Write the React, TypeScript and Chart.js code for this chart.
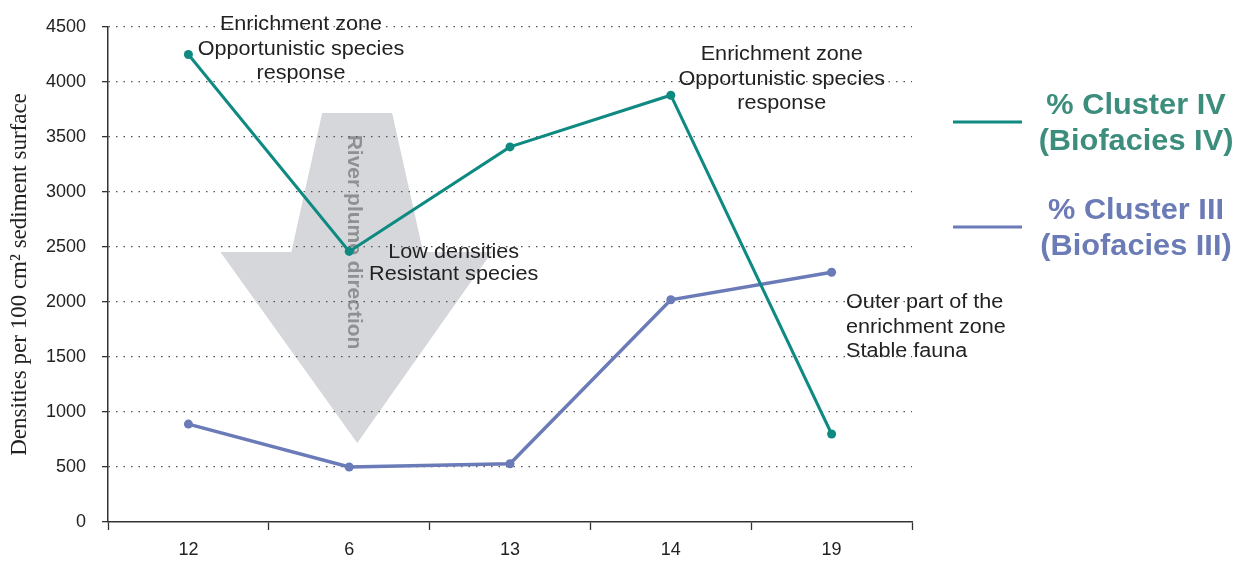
import React, { useEffect, useRef } from 'react';
import { Chart, registerables } from 'chart.js';

Chart.register(...registerables);

const stations = ['12', '6', '13', '14', '19'];
const cluster4 = [4250, 2460, 3410, 3880, 800];
const cluster3 = [890, 500, 530, 2020, 2270];
const yMin = 0;
const yMax = 4500;
const yStep = 500;

const teal = '#0f8a82';
const blue = '#6a7bb8';
const tealText = '#3d8d7d';
const blueText = '#6b7bb6';
const sans = '"Liberation Sans", Arial, sans-serif';

const annotations = [
  { x: 0.7, align: 'center', lines: [['Enrichment zone', 4525], ['Opportunistic species', 4300], ['response', 4075]] },
  { x: 3.69, align: 'center', lines: [['Enrichment zone', 4250], ['Opportunistic species', 4025], ['response', 3805]] },
  { x: 1.65, align: 'center', lines: [['Low densities', 2450], ['Resistant species', 2250]] },
  { x: 4.09, align: 'left', lines: [['Outer part of the', 1995], ['enrichment zone', 1770], ['Stable fauna', 1550]] },
];

// arrow outline in (category index, value) space
const arrowShape: [number, number][] = [
  [0.832, 3718], [1.267, 3718], [1.46, 2455], [1.888, 2455], [1.05, 718], [0.199, 2455], [0.64, 2455],
];

const legendItems = [
  { lines: ['% Cluster IV', '(Biofacies IV)'], line: teal, text: tealText, y: 122 },
  { lines: ['% Cluster III', '(Biofacies III)'], line: blue, text: blueText, y: 227 },
];

const stretchText = (ctx: any, text: string, x: number, y: number, sx: number) => {
  ctx.save();
  ctx.translate(x, y);
  ctx.scale(sx, 1);
  ctx.fillText(text, 0, 0);
  ctx.restore();
};

const decorPlugin = {
  id: 'decor',
  beforeDraw(chart: any) {
    const ctx = chart.ctx;
    const xs = chart.scales.x;
    const ys = chart.scales.y;
    ctx.save();
    ctx.beginPath();
    arrowShape.forEach(([i, v], k) => {
      const px = xs.getPixelForValue(i);
      const py = ys.getPixelForValue(v);
      if (k === 0) ctx.moveTo(px, py);
      else ctx.lineTo(px, py);
    });
    ctx.closePath();
    ctx.fillStyle = '#d6d7da';
    ctx.fill();
    ctx.translate(xs.getPixelForValue(1.03), ys.getPixelForValue(2545));
    ctx.rotate(Math.PI / 2);
    ctx.fillStyle = '#8e9094';
    ctx.font = `bold 21px ${sans}`;
    ctx.textAlign = 'center';
    ctx.textBaseline = 'middle';
    ctx.fillText('River plume direction', 0, 0);
    ctx.restore();
  },
  afterDraw(chart: any) {
    const ctx = chart.ctx;
    const xs = chart.scales.x;
    const ys = chart.scales.y;
    ctx.save();
    ctx.font = `20px ${sans}`;
    ctx.fillStyle = '#222222';
    ctx.textBaseline = 'middle';
    annotations.forEach((a) => {
      ctx.textAlign = a.align;
      const px = xs.getPixelForValue(a.x);
      a.lines.forEach(([t, v]) => {
        stretchText(ctx, t as string, px, ys.getPixelForValue(v as number), 1.08);
      });
    });
    // legend
    legendItems.forEach((it) => {
      ctx.strokeStyle = it.line;
      ctx.lineWidth = 3;
      ctx.beginPath();
      ctx.moveTo(953, it.y);
      ctx.lineTo(1022, it.y);
      ctx.stroke();
      ctx.fillStyle = it.text;
      ctx.font = `bold 29px ${sans}`;
      ctx.textAlign = 'center';
      stretchText(ctx, it.lines[0], 1136, it.y - 16, 1.06);
      stretchText(ctx, it.lines[1], 1136, it.y + 20, 1.06);
    });
    ctx.restore();
  },
};

export default function App() {
  const ref = useRef<HTMLCanvasElement>(null);
  useEffect(() => {
    if (!ref.current) return;
    const chart = new Chart(ref.current, {
      type: 'line',
      data: {
        labels: stations,
        datasets: [
          {
            label: '% Cluster IV (Biofacies IV)',
            data: cluster4,
            borderColor: teal,
            backgroundColor: teal,
            borderWidth: 3,
            pointRadius: 4.5,
            pointBorderWidth: 0,
            tension: 0,
          },
          {
            label: '% Cluster III (Biofacies III)',
            data: cluster3,
            borderColor: blue,
            backgroundColor: blue,
            borderWidth: 3.5,
            pointRadius: 4.5,
            pointBorderWidth: 0,
            tension: 0,
          },
        ],
      },
      options: {
        responsive: false,
        animation: false,
        layout: { padding: { left: 6, top: 27, right: 333, bottom: 0 } },
        plugins: {
          legend: { display: false },
          tooltip: { enabled: false },
        },
        scales: {
          x: {
            type: 'category',
            offset: true,
            grid: {
              offset: true,
              drawOnChartArea: false,
              tickLength: 8,
              tickColor: '#333333',
              tickWidth: 1.3,
            },
            border: { color: '#333333', width: 1.5 },
            ticks: { color: '#222222', font: { family: sans, size: 18 }, padding: 9 },
            afterFit: (s: any) => { s.height = 39; },
          },
          y: {
            min: yMin,
            max: yMax,
            ticks: {
              stepSize: yStep,
              color: '#222222',
              font: { family: sans, size: 18 },
              padding: 16,
              callback: (v: any) => String(v),
            },
            grid: {
              color: (c: any) => (c.tick && c.tick.value === 0 ? 'rgba(0,0,0,0)' : '#555555'),
              lineWidth: 1.3,
              tickBorderDash: [10, 0],
              tickColor: '#333333',
              tickLength: 6,
              tickWidth: 1.3,
            },
            border: { color: '#333333', width: 1.5, dash: [1.5, 6] },
            title: {
              display: true,
              text: 'Densities per 100 cm² sediment surface',
              color: '#222222',
              font: { family: '"Liberation Serif", "Times New Roman", serif', size: 23 },
              padding: 0,
            },
            afterFit: (s: any) => { s.width = 102; },
          },
        },
      },
      plugins: [decorPlugin],
    });
    return () => chart.destroy();
  }, []);
  return (
    <div style={{ position: 'absolute', left: 0, top: 0, width: 1245, height: 561, background: '#fff' }}>
      <canvas ref={ref} width={1245} height={561} style={{ display: 'block' }} />
    </div>
  );
}
